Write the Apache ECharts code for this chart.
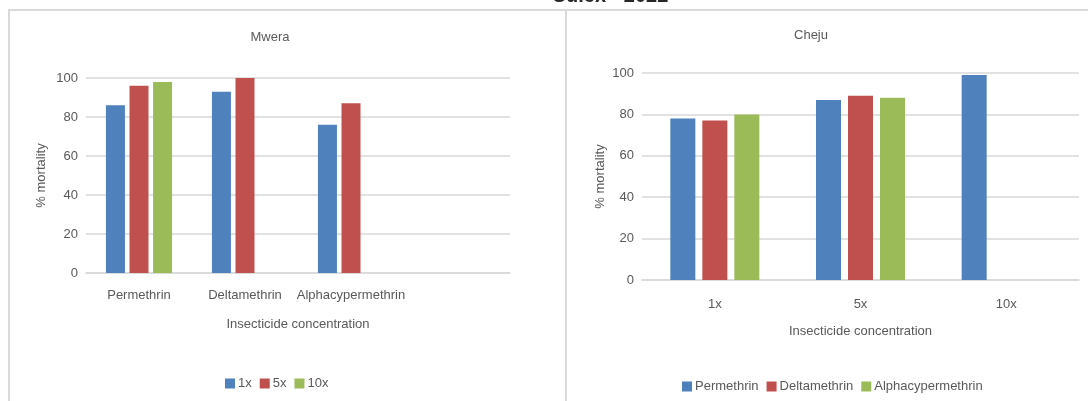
<!DOCTYPE html>
<html>
<head>
<meta charset="utf-8">
<script src="https://cdn.jsdelivr.net/npm/echarts@6/dist/echarts.min.js"></script>
<style>
  html, body { margin: 0; padding: 0; background: #ffffff; }
  #chart { width: 1088px; height: 401px; }
</style>
</head>
<body>
<div id="chart"></div>
<script>
// Mwera panel: mortality by insecticide, one series per concentration
const mweraCategories = ['Permethrin', 'Deltamethrin', 'Alphacypermethrin', ''];
const mwera1x  = [86, 93, 76, null];
const mwera5x  = [96, 100, 87, null];
const mwera10x = [98, null, null, null];

// Cheju panel: mortality by concentration, one series per insecticide
const chejuCategories = ['1x', '5x', '10x'];
const chejuPermethrin = [78, 87, 99];
const chejuDeltamethrin = [77, 89, null];
const chejuAlphacypermethrin = [80, 88, null];

const yTicks = { min: 0, max: 100, interval: 20 };

const BLUE = '#4f81bd', RED = '#c0504d', GREEN = '#9bbb59';
const TXT = '#595959', GRID = '#d9d9d9';
const FONT = '"Liberation Sans", Arial, sans-serif';

function valueAxis(gridIndex, gap) {
  return {
    type: 'value', gridIndex: gridIndex,
    min: yTicks.min, max: yTicks.max, interval: yTicks.interval,
    name: '% mortality', nameLocation: 'middle', nameGap: gap,
    nameTextStyle: { color: TXT, fontSize: 13, fontFamily: FONT },
    axisLine: { show: false }, axisTick: { show: false },
    axisLabel: { color: TXT, fontSize: 13, fontFamily: FONT, margin: 8 },
    splitLine: { lineStyle: { color: GRID, width: 1.5 } }
  };
}

function categoryAxis(gridIndex, data, margin) {
  return {
    type: 'category', gridIndex: gridIndex, data: data,
    name: 'Insecticide concentration', nameLocation: 'middle', nameGap: 45,
    nameTextStyle: { color: TXT, fontSize: 13, fontFamily: FONT },
    axisLine: { lineStyle: { color: GRID, width: 1.5 } },
    axisTick: { show: false },
    axisLabel: { color: TXT, fontSize: 13, fontFamily: FONT, margin: margin, interval: 0 }
  };
}

function bar(name, data, color, axisIndex, width, gap) {
  return {
    type: 'bar', name: name, data: data,
    xAxisIndex: axisIndex, yAxisIndex: axisIndex,
    barWidth: width, barGap: gap,
    itemStyle: { color: color },
    emphasis: { disabled: true }
  };
}

const chart = echarts.init(document.getElementById('chart'), null, { renderer: 'canvas' });

chart.setOption({
  animation: false,
  backgroundColor: '#ffffff',
  textStyle: { fontFamily: FONT },
  grid: [
    { left: 86, top: 78, width: 424, height: 195 },
    { left: 642, top: 73, width: 437, height: 207 }
  ],
  xAxis: [
    categoryAxis(0, mweraCategories, 16),
    categoryAxis(1, chejuCategories, 18)
  ],
  yAxis: [
    valueAxis(0, 38),
    valueAxis(1, 35)
  ],
  legend: [
    {
      data: ['1x', '5x', '10x'],
      left: 220, top: 372,
      icon: 'rect', itemWidth: 10, itemHeight: 10, itemGap: 8,
      textStyle: { color: TXT, fontSize: 13, fontFamily: FONT, padding: [0, 0, 0, -2] }
    },
    {
      data: ['Permethrin', 'Deltamethrin', 'Alphacypermethrin'],
      left: 677, top: 375,
      icon: 'rect', itemWidth: 10, itemHeight: 10, itemGap: 8,
      textStyle: { color: TXT, fontSize: 13, fontFamily: FONT, padding: [0, 0, 0, -2] }
    }
  ],
  title: [
    { text: 'Mwera', left: 265, top: 26, textAlign: 'center',
      textStyle: { color: TXT, fontSize: 13, fontWeight: 'normal', fontFamily: FONT } },
    { text: 'Cheju', left: 806, top: 24, textAlign: 'center',
      textStyle: { color: TXT, fontSize: 13, fontWeight: 'normal', fontFamily: FONT } }
  ],
  graphic: [
    // panel frames
    { type: 'line', silent: true, shape: { x1: 8, y1: 10, x2: 1088, y2: 10 },
      style: { stroke: GRID, lineWidth: 2 } },
    { type: 'line', silent: true, shape: { x1: 9, y1: 10, x2: 9, y2: 401 },
      style: { stroke: GRID, lineWidth: 2 } },
    { type: 'line', silent: true, shape: { x1: 566, y1: 10, x2: 566, y2: 401 },
      style: { stroke: GRID, lineWidth: 2 } },
    // page heading above the panels, mostly above the top edge
    { type: 'text', silent: true, x: 610, y: -14, z: 10,
      style: { text: 'Culex - 2022', fill: '#262626', fontSize: 20, fontWeight: 'bold',
               fontFamily: FONT, align: 'center', verticalAlign: 'top' } }
  ],
  series: [
    bar('1x', mwera1x, BLUE, 0, 19, '24%'),
    bar('5x', mwera5x, RED, 0, 19, '24%'),
    bar('10x', mwera10x, GREEN, 0, 19, '24%'),
    bar('Permethrin', chejuPermethrin, BLUE, 1, 25, '28%'),
    bar('Deltamethrin', chejuDeltamethrin, RED, 1, 25, '28%'),
    bar('Alphacypermethrin', chejuAlphacypermethrin, GREEN, 1, 25, '28%')
  ]
});
</script>
</body>
</html>
